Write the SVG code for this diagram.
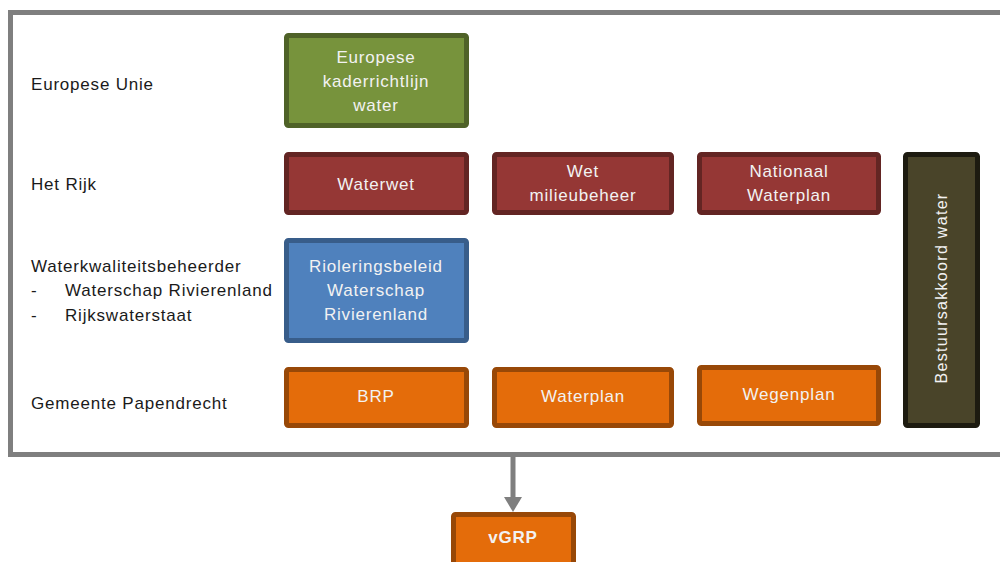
<svg xmlns="http://www.w3.org/2000/svg" width="1000" height="562" viewBox="0 0 1000 562">
<style>
.lbl{font-family:"Liberation Sans",Arial,sans-serif;font-size:17px;letter-spacing:0.8px;fill:#1a1a1a}
.bt{font-family:"Liberation Sans",Arial,sans-serif;font-size:17px;letter-spacing:0.8px;fill:#f2f2f2;text-anchor:middle}
.g{fill:#77933C;stroke:#4F6228;stroke-width:5}
.r{fill:#953735;stroke:#632523;stroke-width:5}
.b{fill:#4F81BD;stroke:#385D8A;stroke-width:5}
.o{fill:#E46C0A;stroke:#984807;stroke-width:5}
.d{fill:#494429;stroke:#1D1B10;stroke-width:5}
</style>
<rect width="1000" height="562" fill="#ffffff"/>
<g id="frame">
<rect x="10.5" y="12.5" width="1010" height="442" fill="none" stroke="#7F7F7F" stroke-width="5"/>
</g>
<g id="labels">
<text class="lbl" x="31" y="90">Europese Unie</text>
<text class="lbl" x="31" y="190">Het Rijk</text>
<text class="lbl" x="31" y="272">Waterkwaliteitsbeheerder</text>
<text class="lbl" x="31" y="296">-</text>
<text class="lbl" x="65" y="296">Waterschap Rivierenland</text>
<text class="lbl" x="31" y="321">-</text>
<text class="lbl" x="65" y="321">Rijkswaterstaat</text>
<text class="lbl" x="31" y="409">Gemeente Papendrecht</text>
</g>
<g id="connectors">
<line x1="513" y1="457" x2="513" y2="498" stroke="#7F7F7F" stroke-width="5"/>
<path d="M504,497 L522,497 L513,512 Z" fill="#7F7F7F"/>
</g>
<g id="kaderrichtlijn">
<rect class="g" x="286.5" y="35.5" width="180" height="90" rx="2"/>
<text class="bt" x="376" y="63">Europese</text>
<text class="bt" x="376" y="87">kaderrichtlijn</text>
<text class="bt" x="376" y="111">water</text>
</g>
<g id="waterwet">
<rect class="r" x="286.5" y="154.5" width="180" height="58" rx="2"/>
<text class="bt" x="376" y="190">Waterwet</text>
</g>
<g id="wetmilieubeheer">
<rect class="r" x="494.5" y="154.5" width="177" height="58" rx="2"/>
<text class="bt" x="583" y="177">Wet</text>
<text class="bt" x="583" y="201">milieubeheer</text>
</g>
<g id="nationaalwaterplan">
<rect class="r" x="699.5" y="154.5" width="179" height="58" rx="2"/>
<text class="bt" x="789" y="177">Nationaal</text>
<text class="bt" x="789" y="201">Waterplan</text>
</g>
<g id="bestuursakkoord">
<rect class="d" x="905.5" y="154.5" width="72" height="271" rx="2"/>
<text class="bt" x="0" y="0" style="font-size:16px;letter-spacing:1.3px" transform="translate(947 288) rotate(-90)">Bestuursakkoord water</text>
</g>
<g id="rioleringsbeleid">
<rect class="b" x="286.5" y="240.5" width="180" height="100" rx="2"/>
<text class="bt" x="376" y="272">Rioleringsbeleid</text>
<text class="bt" x="376" y="296">Waterschap</text>
<text class="bt" x="376" y="320">Rivierenland</text>
</g>
<g id="brp">
<rect class="o" x="286.5" y="369.5" width="180" height="56" rx="2"/>
<text class="bt" x="376" y="402">BRP</text>
</g>
<g id="waterplan">
<rect class="o" x="494.5" y="369.5" width="177" height="56" rx="2"/>
<text class="bt" x="583" y="402">Waterplan</text>
</g>
<g id="wegenplan">
<rect class="o" x="699.5" y="367.5" width="179" height="56" rx="2"/>
<text class="bt" x="789" y="400">Wegenplan</text>
</g>
<g id="vgrp">
<rect class="o" x="453.5" y="514.5" width="120" height="60" rx="2"/>
<text class="bt" x="513" y="543" font-weight="bold">vGRP</text>
</g>
</svg>
